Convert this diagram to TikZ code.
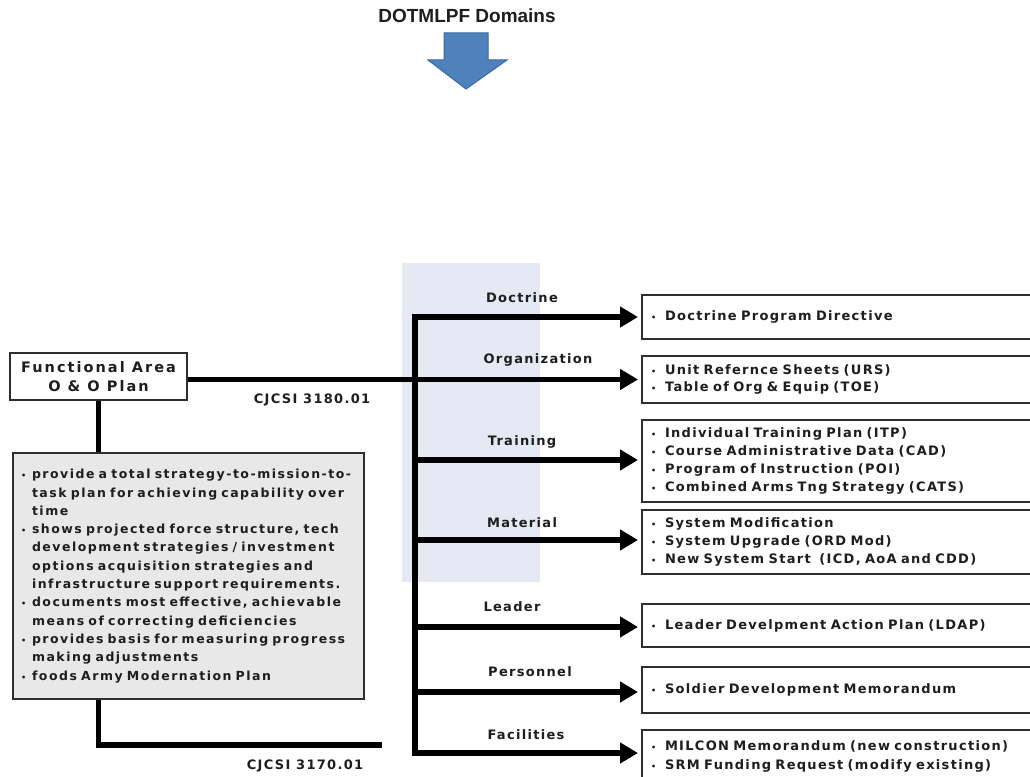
\documentclass[tikz,border=0pt]{standalone}
\usepackage{fontspec}
\setmainfont{Liberation Sans}
\newfontfamily\wf{DejaVu Sans}[LetterSpace=10]
\newfontfamily\wg{DejaVu Sans}[LetterSpace=12]
\newfontfamily\wff{DejaVu Sans}[LetterSpace=14]
\usetikzlibrary{arrows.meta}
\definecolor{txt}{HTML}{1E1E1E}
\definecolor{boxline}{HTML}{2E2E2E}
\definecolor{greyfill}{HTML}{E8E8E8}
\definecolor{bandblue}{HTML}{E4E9F4}
\definecolor{bluefill}{HTML}{4F81BD}
\definecolor{blueline}{HTML}{3B6BA5}
\newcommand\bul{\makebox[14pt][l]{\fontsize{8}{8}\selectfont\textbullet}}
\newcommand\li[1]{\mbox{\bul#1}}
\newcommand\gb{\makebox[11pt][l]{\fontsize{8}{8}\selectfont\textbullet}}
\newcommand\gi{\hspace*{11pt}}
\begin{document}
\begin{tikzpicture}[x=1pt,y=-1pt,
  rbox/.style={draw=boxline, line width=2pt, fill=white, anchor=west,
    minimum width=404pt, text width=386pt, inner xsep=9pt, inner ysep=2pt, align=left,
    text=txt, font=\wf\bfseries\fontsize{13}{18}\selectfont},
  lbl/.style={text=txt, font=\wf\bfseries\fontsize{13}{15}\selectfont, inner sep=0pt},
  wire/.style={line width=5.5pt, draw=black},
  arr/.style={wire, -{Triangle[length=18pt,width=20pt]}, shorten >=3pt}
]
\useasboundingbox (0,0) rectangle (1030,776);
\clip (0,0) rectangle (1030,776);
\fill[white] (0,0) rectangle (1030,776);

% title and blue arrow
\node[text=txt, font=\bfseries\fontsize{19}{20}\selectfont, inner sep=0pt] (title) at (467,16) {DOTMLPF Domains};
\draw[fill=bluefill, draw=blueline, line width=1pt]
  (444,33) -- (488,33) -- (488,60) -- (507,60) -- (466,89) -- (428,60) -- (444,60) -- cycle;

% shaded band
\fill[bandblue] (402,263) rectangle (540,582);

% left boxes
\node[draw=boxline, line width=2pt, fill=white, minimum width=177pt, minimum height=47pt,
  align=center, text=txt, font=\wff\bfseries\fontsize{14.5}{19}\selectfont, inner sep=2pt]
  (fa) at (98.5,376.5) {Functional Area\\O \& O Plan};
\node[draw=boxline, line width=2pt, fill=greyfill, anchor=north west,
  minimum width=351pt, minimum height=246pt, text width=335pt, inner xsep=8pt,
  align=left, text=txt, font=\wg\bfseries\fontsize{12.5}{18.3}\selectfont]
  (desc) at (12,452) {%
  \mbox{\gb provide a total strategy-to-mission-to-}\\
  \mbox{\gi task plan for achieving capability over}\\
  \mbox{\gi time}\\
  \mbox{\gb shows projected force structure, tech}\\
  \mbox{\gi development strategies / investment}\\
  \mbox{\gi options acquisition strategies and}\\
  \mbox{\gi infrastructure support requirements.}\\
  \mbox{\gb documents most effective, achievable}\\
  \mbox{\gi means of correcting deficiencies}\\
  \mbox{\gb provides basis for measuring progress}\\
  \mbox{\gi making adjustments}\\
  \mbox{\gb foods Army Modernation Plan}};

% right boxes
\node[rbox, minimum height=44pt] (d1) at (641,317) {\li{Doctrine Program Directive}};
\node[rbox, minimum height=47pt, font=\wf\bfseries\fontsize{13}{16.5}\selectfont] (d2) at (641,379.5)
  {\li{Unit Refernce Sheets (URS)}\\\li{Table of Org \& Equip (TOE)}};
\node[rbox, minimum height=82pt] (d3) at (641,461)
  {\li{Individual Training Plan (ITP)}\\\li{Course Administrative Data (CAD)}\\
   \li{Program of Instruction (POI)}\\\li{Combined Arms Tng Strategy (CATS)}};
\node[rbox, minimum height=64pt] (d4) at (641,542)
  {\li{System Modification}\\\li{System Upgrade (ORD Mod)}\\\li{New System Start\ \ (ICD, AoA and CDD)}};
\node[rbox, minimum height=43pt] (d5) at (641,625.5) {\li{Leader Develpment Action Plan (LDAP)}};
\node[rbox, minimum height=46pt] (d6) at (641,690) {\li{Soldier Development Memorandum}};
\node[rbox, minimum height=52pt, font=\wf\bfseries\fontsize{13}{19}\selectfont] (d7) at (641,756)
  {\li{MILCON Memorandum (new construction)}\\\li{SRM Funding Request (modify existing)}};

% bus
\coordinate (b1) at (415,317);
\coordinate (b3) at (415,460);
\coordinate (b4) at (415,540);
\coordinate (b5) at (415,627);
\coordinate (b6) at (415,692);
\coordinate (b7) at (415,753);
\draw[wire, line cap=rect] (b1) -- (b7);
\draw[arr] (b1) -- (b1 -| d1.west);
\draw[arr] (fa.east |- d2.west) -- (d2.west);
\draw[arr] (b3) -- (b3 -| d3.west);
\draw[arr] (b4) -- (b4 -| d4.west);
\draw[arr] (b5) -- (b5 -| d5.west);
\draw[arr] (b6) -- (b6 -| d6.west);
\draw[arr] (b7) -- (b7 -| d7.west);

% left connectors
\draw[wire] (fa.south) -- (fa.south |- desc.north);
\coordinate (e2) at (382,745);
\draw[wire] (fa.south |- desc.south) |- (e2);

% labels
\node[lbl] (l1) at (522,298) {Doctrine};
\node[lbl] (l2) at (538,360) {Organization};
\node[lbl] (l3) at (522,442) {Training};
\node[lbl] (l4) at (522,523) {Material};
\node[lbl] (l5) at (512,607) {Leader};
\node[lbl] (l6) at (530,672) {Personnel};
\node[lbl] (l7) at (526,735) {Facilities};
\node[lbl] (c1) at (312,400) {CJCSI 3180.01};
\node[lbl] (c2) at (305,766) {CJCSI 3170.01};
\end{tikzpicture}
\end{document}
